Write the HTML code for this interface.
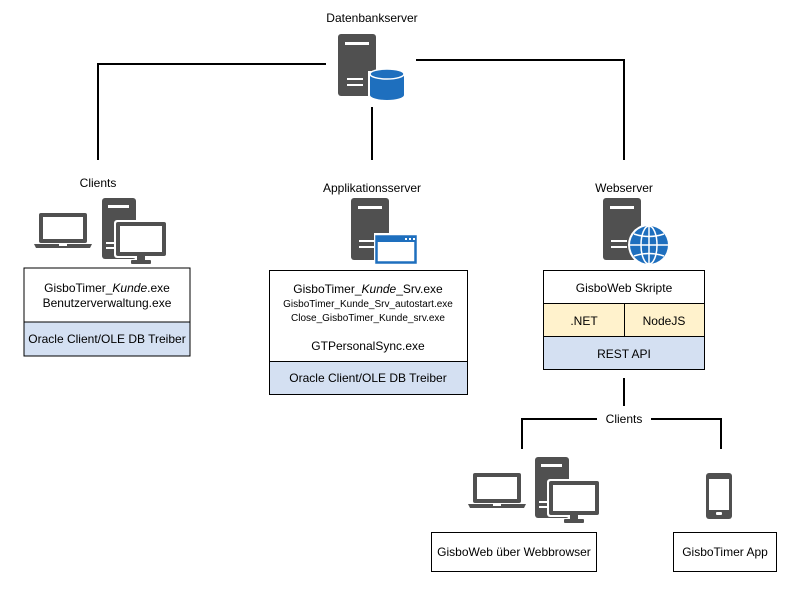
<!DOCTYPE html>
<html><head><meta charset="utf-8"><style>
body{margin:0;background:#fff;}
svg text{font-family:"Liberation Sans",sans-serif;font-size:12px;fill:#000;}
</style></head><body>
<svg width="787" height="585" viewBox="0 0 787 585" xmlns="http://www.w3.org/2000/svg">
<defs>
<g id="srv"><rect x="0" y="0" width="38" height="62" rx="3" fill="#505050"/><rect x="7" y="8" width="24" height="3" fill="#fff"/></g>
<g id="laptop"><rect x="5" y="0" width="48" height="30" rx="2" fill="#505050"/><rect x="9" y="4" width="40" height="22" fill="#fff"/><path d="M0 31 H58 L56 35 H2 Z" fill="#505050"/><rect x="25" y="31" width="8" height="2" fill="#fff"/></g>
<g id="tower"><rect x="0" y="0" width="34" height="61" rx="3" fill="#505050"/><rect x="6" y="7" width="21" height="3" fill="#fff"/><rect x="4" y="44" width="10" height="2" fill="#fff"/><rect x="4" y="49" width="10" height="2" fill="#fff"/>
<rect x="12" y="22" width="54" height="38" rx="3" fill="#fff"/><rect x="14" y="24" width="50" height="34" rx="2" fill="#505050"/><rect x="18" y="28" width="42" height="26" fill="#fff"/><rect x="35" y="58" width="8" height="5" fill="#505050"/><rect x="29" y="62" width="20" height="4" rx="1" fill="#505050"/></g>
</defs>
<g fill="none" stroke="#000" stroke-width="2">
<path d="M98 160 V64 H326"/><path d="M416 60 H624 V160"/><path d="M372 107 V160"/>
<path d="M624 378 V406"/><path d="M597 419 H522 V449"/><path d="M651 419 H721 V449"/>
</g>
<text x="372" y="22" text-anchor="middle">Datenbankserver</text>
<use href="#srv" x="338" y="34"/>
<rect x="347" y="78" width="16" height="2" fill="#fff"/><rect x="347" y="84" width="16" height="2" fill="#fff"/>
<g><rect x="368" y="71" width="38" height="30" fill="#fff"/><path d="M370 74 V95 A17 5 0 0 0 404 95 V74 Z" fill="#1e6fbe"/><ellipse cx="387" cy="74" rx="17" ry="5" fill="#1e6fbe" stroke="#fff" stroke-width="1.5"/></g>

<text x="98" y="187" text-anchor="middle">Clients</text>
<use href="#laptop" x="34" y="213"/>
<use href="#tower" x="102" y="198"/>
<rect x="24" y="268" width="166" height="88" fill="#fff" stroke="#000"/>
<rect x="24.5" y="322" width="165" height="33.5" fill="#d4e0f2"/>
<line x1="24" y1="322" x2="190" y2="322" stroke="#000"/>
<rect x="24" y="268" width="166" height="88" fill="none" stroke="#000"/>
<text x="107" y="292" text-anchor="middle">GisboTimer_<tspan font-style="italic">Kunde</tspan>.exe</text>
<text x="107" y="307" text-anchor="middle">Benutzerverwaltung.exe</text>
<text x="107" y="343" text-anchor="middle">Oracle Client/OLE DB Treiber</text>

<text x="372" y="192" text-anchor="middle">Applikationsserver</text>
<use href="#srv" x="351" y="198"/>
<rect x="359" y="240" width="16" height="2" fill="#fff"/><rect x="359" y="246" width="16" height="2" fill="#fff"/>
<rect x="374" y="233" width="44" height="32" fill="#fff"/>
<rect x="376.5" y="236.5" width="39" height="26" fill="#fff" stroke="#1e6fbe" stroke-width="2.5"/>
<rect x="376" y="236" width="40" height="6" fill="#1e6fbe"/>
<rect x="405" y="238" width="2" height="2" fill="#fff"/><rect x="409" y="238" width="2" height="2" fill="#fff"/><rect x="413" y="238" width="2" height="2" fill="#fff"/>
<rect x="269.5" y="270.5" width="198" height="124" fill="#fff" stroke="#000"/>
<rect x="270" y="361" width="197" height="33" fill="#d4e0f2"/>
<line x1="269" y1="361.5" x2="468" y2="361.5" stroke="#000"/>
<text x="368" y="293" text-anchor="middle">GisboTimer_<tspan font-style="italic">Kunde</tspan>_Srv.exe</text>
<text x="368" y="307" text-anchor="middle" style="font-size:10px">GisboTimer_Kunde_Srv_autostart.exe</text>
<text x="368" y="321" text-anchor="middle" style="font-size:10px">Close_GisboTimer_Kunde_srv.exe</text>
<text x="368" y="350" text-anchor="middle">GTPersonalSync.exe</text>
<text x="368" y="382" text-anchor="middle">Oracle Client/OLE DB Treiber</text>

<text x="624" y="192" text-anchor="middle">Webserver</text>
<use href="#srv" x="603" y="198"/>
<rect x="611" y="240" width="16" height="2" fill="#fff"/><rect x="611" y="246" width="16" height="2" fill="#fff"/>
<circle cx="649" cy="245" r="21" fill="#fff"/>
<circle cx="649" cy="245" r="19" fill="#1e6fbe"/>
<g fill="none" stroke="#fff" stroke-width="1.5"><ellipse cx="649" cy="245" rx="8" ry="19"/><line x1="649" y1="226" x2="649" y2="264"/><line x1="630" y1="245" x2="668" y2="245"/><path d="M634 234 Q649 239 664 234"/><path d="M634 256 Q649 251 664 256"/></g>
<rect x="543.5" y="270.5" width="161" height="99" fill="#fff" stroke="#000"/>
<rect x="544" y="303" width="160" height="33" fill="#fff2cc"/>
<rect x="544" y="336" width="160" height="33" fill="#d4e0f2"/>
<g stroke="#000"><line x1="543" y1="303.5" x2="705" y2="303.5"/><line x1="543" y1="336.5" x2="705" y2="336.5"/><line x1="624.5" y1="303" x2="624.5" y2="336"/></g>
<rect x="543.5" y="270.5" width="161" height="99" fill="none" stroke="#000"/>
<text x="624" y="292" text-anchor="middle">GisboWeb Skripte</text>
<text x="584" y="325" text-anchor="middle">.NET</text>
<text x="664" y="325" text-anchor="middle">NodeJS</text>
<text x="624" y="358" text-anchor="middle">REST API</text>

<text x="624" y="423" text-anchor="middle">Clients</text>
<use href="#laptop" x="468" y="473"/>
<use href="#tower" x="535" y="457"/>
<rect x="706" y="473" width="26" height="46" rx="3" fill="#505050"/>
<rect x="709" y="479" width="20" height="31" fill="#fff"/>
<rect x="716" y="512" width="6" height="3" rx="1" fill="#fff"/>
<rect x="431.5" y="532.5" width="165" height="39" fill="#fff" stroke="#000"/>
<text x="514" y="556" text-anchor="middle">GisboWeb über Webbrowser</text>
<rect x="673.5" y="532.5" width="103" height="39" fill="#fff" stroke="#000"/>
<text x="725" y="556" text-anchor="middle">GisboTimer App</text>
</svg>
</body></html>
